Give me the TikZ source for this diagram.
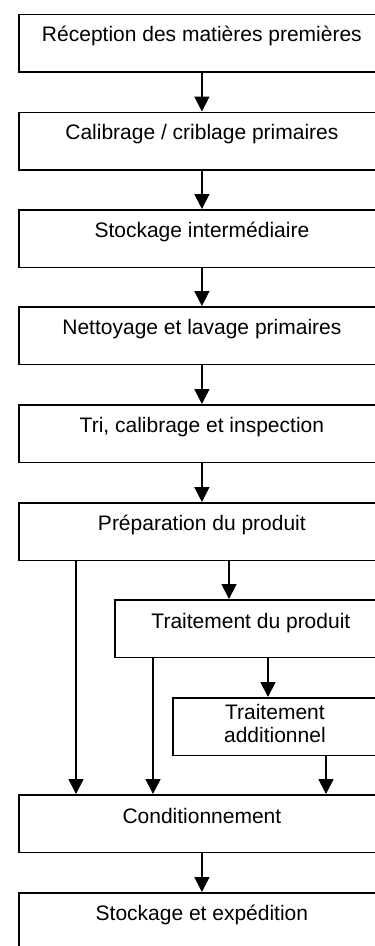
\documentclass[tikz,border=0pt]{standalone}
\usepackage{fontspec}
\setmainfont{Liberation Sans}
\usetikzlibrary{arrows.meta}
\begin{document}
\begin{tikzpicture}[x=1pt,y=-1pt,
  stepbox/.style={draw=black,line width=1.8pt,rectangle,inner sep=0pt,anchor=north west,minimum height=57.5pt},
  lbl/.style={anchor=base,inner sep=0pt,font=\fontsize{21}{23.5}\selectfont,align=center},
  arr/.style={line width=1.8pt,-{Triangle[length=15pt,width=15pt]}}]
\useasboundingbox (0,0) rectangle (375,946);
\clip (0,0) rectangle (375,946);
% boxes
\node[stepbox,minimum width=366pt] (b1) at (18,13.5) {};
\node[stepbox,minimum width=366pt] (b2) at (18,111.5) {};
\node[stepbox,minimum width=366pt] (b3) at (18,209) {};
\node[stepbox,minimum width=366pt] (b4) at (18,306) {};
\node[stepbox,minimum width=366pt] (b5) at (18,404) {};
\node[stepbox,minimum width=366pt] (b6) at (18,502) {};
\node[stepbox,minimum width=272pt] (b7) at (114,599) {};
\node[stepbox,minimum width=212pt] (b8) at (172,697) {};
\node[stepbox,minimum width=366pt] (b9) at (18,794) {};
\node[stepbox,minimum width=366pt,minimum height=70pt] (b10) at (18,892) {};
% labels
\node[lbl] (t1) at ([yshift=-28pt]b1.north) {Réception des matières premières};
\node[lbl] (t2) at ([yshift=-28pt]b2.north) {Calibrage / criblage primaires};
\node[lbl] (t3) at ([yshift=-28pt]b3.north) {Stockage intermédiaire};
\node[lbl] (t4) at ([yshift=-28pt]b4.north) {Nettoyage et lavage primaires};
\node[lbl] (t5) at ([yshift=-28pt]b5.north) {Tri, calibrage et inspection};
\node[lbl] (t6) at ([yshift=-28pt]b6.north) {Préparation du produit};
\node[lbl] (t7) at ([yshift=-29pt]b7.north) {Traitement du produit};
\node[lbl,anchor=north] (t8) at ([yshift=-7pt,xshift=-4pt]b8.north) {Traitement\\additionnel};
\node[lbl] (t9) at ([yshift=-29pt]b9.north) {Conditionnement};
\node[lbl] (t10) at ([yshift=-28pt]b10.north) {Stockage et expédition};
% x positions
\coordinate (xa) at (76,0);
\coordinate (xb) at (229,0);
\coordinate (xc) at (153,0);
\coordinate (xd) at (268,0);
\coordinate (xe) at (326,0);
% connectors
\draw[arr] (b1.south) -- (b2.north);
\draw[arr] (b2.south) -- (b3.north);
\draw[arr] (b3.south) -- (b4.north);
\draw[arr] (b4.south) -- (b5.north);
\draw[arr] (b5.south) -- (b6.north);
\draw[arr] (b6.south -| xa) -- (b9.north -| xa);
\draw[arr] (b6.south -| xb) -- (b7.north -| xb);
\draw[arr] (b7.south -| xc) -- (b9.north -| xc);
\draw[arr] (b7.south -| xd) -- (b8.north -| xd);
\draw[arr] (b8.south -| xe) -- (b9.north -| xe);
\draw[arr] (b9.south -| b1.south) -- (b10.north -| b1.south);
\end{tikzpicture}
\end{document}
